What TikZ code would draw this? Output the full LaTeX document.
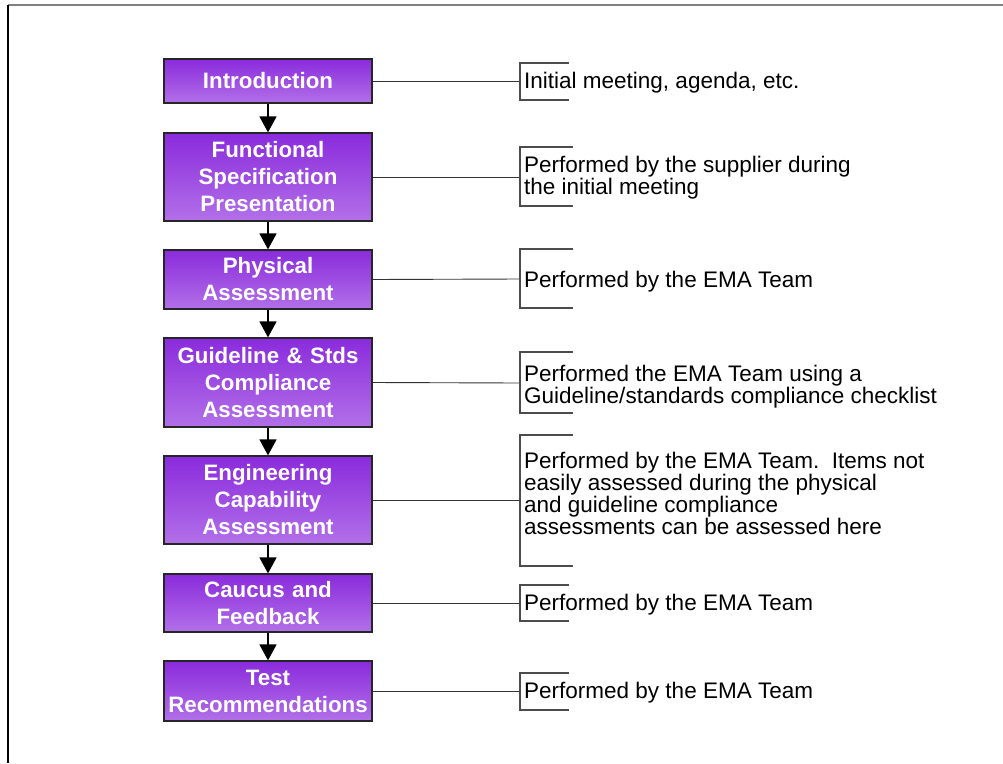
\documentclass[tikz,border=0pt]{standalone}
\usepackage{fontspec}
\setmainfont{Liberation Sans}
\usetikzlibrary{arrows.meta}
\definecolor{ptop}{RGB}{138,43,220}
\definecolor{pbot}{RGB}{178,112,232}
\tikzset{
  stage/.style={draw=black!85, line width=1.2pt, top color=ptop, bottom color=pbot,
    minimum width=208pt, inner sep=0pt, text=white, align=center, text width=208pt,
    font=\fontsize{22.3}{27}\selectfont\bfseries},
  note/.style={anchor=west, inner sep=0pt, align=left, text=black,
    font=\fontsize{22.5}{20.3}\selectfont},
  link/.style={draw=black!80, line width=0.9pt},
  bracket/.style={draw=black!70, line width=1.3pt},
  flow/.style={line width=1.4pt, -{Triangle[width=17pt,length=16pt]}}
}
\begin{document}
\begin{tikzpicture}[x=1pt,y=-1pt]
\useasboundingbox (0,0) rectangle (1003,763);
% frame
\draw[black!50, line width=1.5pt] (8,5) -- (1003,5);
\draw[black, line width=1.5pt] (8,5) -- (8,763);

% stages
\node[stage, minimum height=44pt] (s1) at (268,81) {Introduction};
\node[stage, minimum height=88pt] (s2) at (268,177) {Functional\\Specification\\Presentation};
\node[stage, minimum height=59pt] (s3) at (268,279.5) {Physical\\Assessment};
\node[stage, minimum height=89pt] (s4) at (268,382.5) {Guideline \& Stds\\Compliance\\Assessment};
\node[stage, minimum height=88pt] (s5) at (268,500) {Engineering\\Capability\\Assessment};
\node[stage, minimum height=58pt] (s6) at (268,603) {Caucus and\\Feedback};
\node[stage, minimum height=60pt] (s7) at (268,691) {Test\\Recommendations};

% flow arrows
\draw[flow] (s1.south) -- (s2.north);
\draw[flow] (s2.south) -- (s3.north);
\draw[flow] (s3.south) -- (s4.north);
\draw[flow] (s4.south) -- (s5.north);
\draw[flow] (s5.south) -- (s6.north);
\draw[flow] (s6.south) -- (s7.north);

% bracket anchor points
\coordinate (b1) at (520,81);
\coordinate (b2) at (520,177);
\coordinate (b3) at (520,279);
\coordinate (b4) at (520,383);
\coordinate (b5) at (520,500);
\coordinate (b6) at (520,603);
\coordinate (b7) at (520,691);

% links
\draw[link] (s1.east) -- (b1);
\draw[link] (s2.east) -- (b2);
\draw[link] (s3.east) -- (b3);
\draw[link] (s4.east) -- (b4);
\draw[link] (s5.east) -- (b5);
\draw[link] (s6.east) -- (b6);
\draw[link] (s7.east) -- (b7);

% brackets
\draw[bracket] (569,63) -- (520,63) -- (520,100) -- (569,100);
\draw[bracket] (573,147) -- (520,147) -- (520,206) -- (573,206);
\draw[bracket] (573,249) -- (520,249) -- (520,308) -- (573,308);
\draw[bracket] (573,352) -- (520,352) -- (520,413) -- (573,413);
\draw[bracket] (573,435) -- (520,435) -- (520,566) -- (573,566);
\draw[bracket] (569,585) -- (520,585) -- (520,621) -- (569,621);
\draw[bracket] (569,673) -- (520,673) -- (520,710) -- (569,710);

% notes
\node[note] (n1) at (524,82.5) {Initial meeting, agenda, etc.};
\node[note] (n2) at (524,177.5) {Performed by the supplier during\\the initial meeting};
\node[note] (n3) at (524,281.5) {Performed by the EMA Team};
\node[note] (n4) at (524,386.5) {Performed the EMA Team using a\\Guideline/standards compliance checklist};
\node[note] (n5) at (524,493.5) {Performed by the EMA Team.\ \ Items not\\easily assessed during the physical\\and guideline compliance\\assessments can be assessed here};
\node[note] (n6) at (524,604.5) {Performed by the EMA Team};
\node[note] (n7) at (524,692.5) {Performed by the EMA Team};
\end{tikzpicture}
\end{document}
